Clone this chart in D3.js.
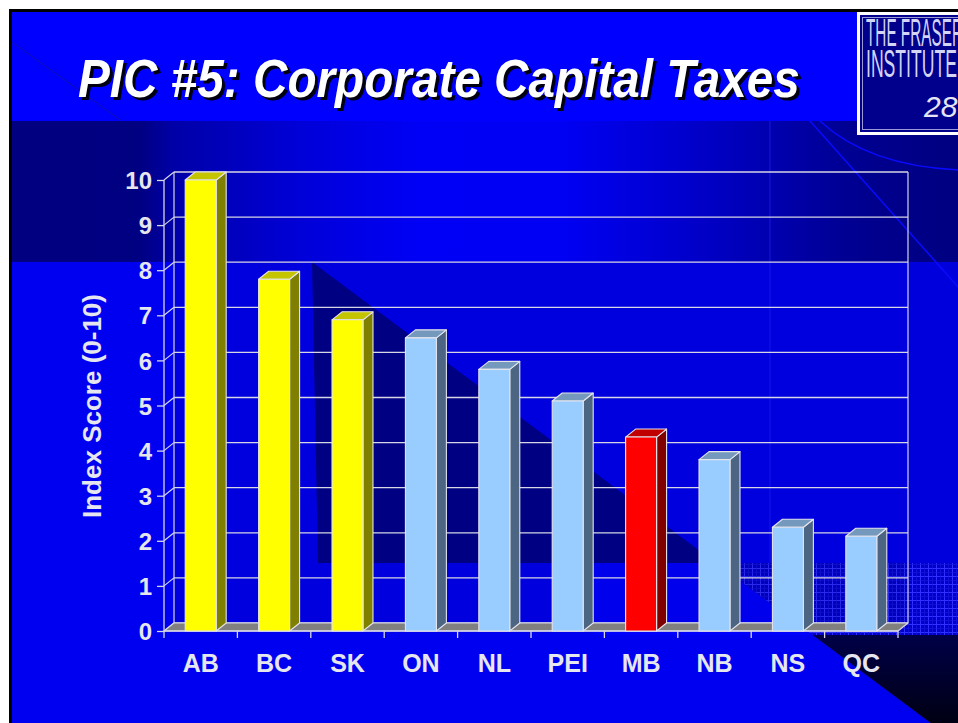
<!DOCTYPE html>
<html><head><meta charset="utf-8">
<script src="https://cdn.jsdelivr.net/npm/d3@7"></script>
<style>html,body{margin:0;padding:0;background:#fff;overflow:hidden}svg{display:block}</style>
</head><body>
<svg id="c" width="958" height="723"></svg>
<script>
// Index scores by province
const categories = ["AB", "BC", "SK", "ON", "NL", "PEI", "MB", "NB", "NS", "QC"];
const scores = [10, 7.8, 6.9, 6.5, 5.8, 5.1, 4.3, 3.8, 2.3, 2.1];
const groups = ["lead", "lead", "lead", "other", "other", "other", "focus", "other", "other", "other"];
const yTicks = [0, 1, 2, 3, 4, 5, 6, 7, 8, 9, 10];
const titleText = "PIC #5: Corporate Capital Taxes";
const yTitleText = "Index Score (0-10)";
const logoLines = ["THE FRASER", "INSTITUTE"];
const pageNumber = "28";

const palette = {
  lead:  {front: "#ffff00", side: "#808000", top: "#c4c400"},
  other: {front: "#99ccff", side: "#4b6582", top: "#7499bd"},
  focus: {front: "#ff0000", side: "#800000", top: "#c00000"}
};
const FONT = "'Liberation Sans', Arial, Helvetica, sans-serif";
const labelColor = "#e6e6ee";

const svg = d3.select("#c");
const defs = svg.append("defs");

// ---------- slide background ----------
const bandGrad = defs.append("linearGradient").attr("id", "band")
  .attr("gradientUnits", "userSpaceOnUse").attr("x1", 12).attr("x2", 958).attr("y1", 0).attr("y2", 0);
[[12, "#000080"], [140, "#000082"], [174, "#0000a8"], [300, "#0000d8"], [420, "#0000f6"],
 [560, "#0000f4"], [700, "#0000c8"], [770, "#0000b0"], [850, "#000092"], [958, "#000080"]]
  .forEach(([x, c]) => bandGrad.append("stop").attr("offset", (x - 12) / 946).attr("stop-color", c));

const darkGrad = defs.append("linearGradient").attr("id", "night")
  .attr("x1", 0).attr("x2", 0).attr("y1", 0).attr("y2", 1);
darkGrad.append("stop").attr("offset", 0).attr("stop-color", "#000048");
darkGrad.append("stop").attr("offset", 1).attr("stop-color", "#000012");

const grid = defs.append("pattern").attr("id", "mesh").attr("patternUnits", "userSpaceOnUse")
  .attr("width", 8).attr("height", 8);
grid.append("rect").attr("width", 8).attr("height", 8).attr("fill", "#0000c8");
grid.append("path").attr("d", "M0 0.5H8M0.5 0V8").attr("stroke", "#3030ff").attr("stroke-width", 1);
grid.append("path").attr("d", "M0 4.5H8M4.5 0V8").attr("stroke", "#1818e0").attr("stroke-width", 0.6);

const bg = svg.append("g");
bg.append("rect").attr("x", 9).attr("y", 9).attr("width", 960).attr("height", 720).attr("fill", "#000");
bg.append("rect").attr("x", 12).attr("y", 12).attr("width", 950).attr("height", 715).attr("fill", "#0000f0");
bg.append("rect").attr("x", 12).attr("y", 12).attr("width", 950).attr("height", 109).attr("fill", "#0000ff");
bg.append("rect").attr("x", 12).attr("y", 121).attr("width", 950).attr("height", 141).attr("fill", "url(#band)");
bg.append("rect").attr("x", 908).attr("y", 262).attr("width", 60).attr("height", 301).attr("fill", "#0000dc");
// diagonal shading and lower-right motif
const diag = y => 312 + (y - 262) / 0.745;
bg.append("polygon").attr("points", [[312, 262], [diag(563), 563], [318, 563]].join(" ")).attr("fill", "#000088");
bg.append("polygon").attr("points", [[593, 563], [diag(563), 563], [diag(635), 635], [593, 635]].join(" ")).attr("fill", "#0000ff");
bg.append("polygon").attr("points", [[diag(563), 563], [960, 563], [960, 635], [diag(635), 635]].join(" ")).attr("fill", "url(#mesh)");
bg.append("polygon").attr("points", [[diag(635), 635], [960, 635], [960, 725], [diag(725), 725]].join(" ")).attr("fill", "url(#night)");
// thin decorative strokes
bg.append("line").attr("x1", 12).attr("y1", 42).attr("x2", 122).attr("y2", 121).attr("stroke", "#1010b0").attr("stroke-width", 1);
bg.append("line").attr("x1", 770).attr("y1", 121).attr("x2", 770).attr("y2", 563).attr("stroke", "#2a2aff").attr("stroke-width", 1).attr("opacity", 0.6);
bg.append("line").attr("x1", 810).attr("y1", 121).attr("x2", 960).attr("y2", 289).attr("stroke", "#0a0aff").attr("stroke-width", 1.5);
bg.append("path").attr("d", "M820 121 Q868 166 960 170").attr("fill", "none").attr("stroke", "#0a0aff").attr("stroke-width", 1.5);

// ---------- title ----------
const title = svg.append("g").attr("font-family", FONT).attr("font-weight", "bold").attr("font-style", "italic").attr("font-size", 54);
const tShadow = title.append("text").attr("x", 0).attr("y", 0).attr("fill", "#000010").text(titleText);
const tMain = title.append("text").attr("x", 0).attr("y", 0).attr("fill", "#ffffff").text(titleText);
const tw = tMain.node().getComputedTextLength();
const sx = 722 / tw;
tShadow.attr("transform", `translate(81,100) scale(${sx},1)`);
tMain.attr("transform", `translate(78,97) scale(${sx},1)`);

// ---------- logo box ----------
const logo = svg.append("g");
logo.append("rect").attr("x", 857).attr("y", 12).attr("width", 110).attr("height", 123).attr("fill", "#ffffff");
logo.append("rect").attr("x", 860).attr("y", 15).attr("width", 110).attr("height", 117).attr("fill", "#00008c");
logo.append("rect").attr("x", 862.5).attr("y", 17.5).attr("width", 110).attr("height", 112).attr("fill", "none")
  .attr("stroke", "#9a9ad8").attr("stroke-width", 1);
logoLines.forEach((s, i) => {
  const t = logo.append("text").attr("font-family", FONT).attr("font-size", 30).attr("fill", "#d4d4f4")
    .attr("x", 0).attr("y", 0).text(s);
  const w = t.node().getComputedTextLength();
  const k = (i === 0 ? 97 : 91) / w;
  t.attr("transform", `translate(866,${i === 0 ? 46 : 77}) scale(${k},1.3)`);
});
logo.append("text").attr("font-family", FONT).attr("font-style", "italic").attr("font-size", 30)
  .attr("fill", "#e4e4f4").attr("x", 924).attr("y", 117).text(pageNumber);

// ---------- chart ----------
const dx = 10, dy = -8;
const x = d3.scaleBand().domain(categories).range([164, 898]).paddingInner(0.578).paddingOuter(0.289);
const y = d3.scaleLinear().domain([0, 10]).range([631, 180]);
const x0 = 164, x1 = 898;
const lineCol = "#d6d6e4";
const chart = svg.append("g");

// back wall tint (below band) and frame
chart.append("rect").attr("x", x0 + dx).attr("y", 262).attr("width", x1 - x0).attr("height", y(0) + dy - 262)
  .attr("fill", "#000060").attr("opacity", 0.12);
// gridlines on back wall + side-wall diagonals
yTicks.forEach(t => {
  chart.append("line").attr("x1", x0 + dx).attr("x2", x1 + dx).attr("y1", y(t) + dy).attr("y2", y(t) + dy)
    .attr("stroke", lineCol).attr("stroke-width", 1.3);
  chart.append("line").attr("x1", x0).attr("x2", x0 + dx).attr("y1", y(t)).attr("y2", y(t) + dy)
    .attr("stroke", lineCol).attr("stroke-width", 1.2);
});
chart.append("line").attr("x1", x0 + dx).attr("x2", x0 + dx).attr("y1", y(10) + dy).attr("y2", y(0) + dy).attr("stroke", lineCol).attr("stroke-width", 1.2);
chart.append("line").attr("x1", x1 + dx).attr("x2", x1 + dx).attr("y1", y(10) + dy).attr("y2", y(0) + dy).attr("stroke", lineCol).attr("stroke-width", 1.2);

// floor
chart.append("polygon").attr("points", [[x0, y(0)], [x1, y(0)], [x1 + dx, y(0) + dy], [x0 + dx, y(0) + dy]].join(" "))
  .attr("fill", "#808080").attr("stroke", lineCol).attr("stroke-width", 1.2).attr("stroke-linejoin", "round");

// front y axis
chart.append("line").attr("x1", x0).attr("x2", x0).attr("y1", y(10)).attr("y2", y(0)).attr("stroke", lineCol).attr("stroke-width", 1.3);
const yAxis = d3.axisLeft(y).tickValues(yTicks).tickSize(7).tickPadding(5).tickFormat(d3.format("d"));
const yg = chart.append("g").attr("transform", `translate(${x0},0)`).call(yAxis);
yg.select(".domain").remove();
yg.selectAll(".tick line").attr("stroke", lineCol).attr("stroke-width", 1.3);
yg.selectAll(".tick text").attr("fill", labelColor).attr("font-family", FONT).attr("font-weight", "bold")
  .attr("font-size", 24).attr("dy", "0.36em");

// x axis: ticks at category boundaries
const bounds = d3.range(categories.length + 1).map(i => x0 + i * x.step());
chart.selectAll(".xb").data(bounds).join("line").attr("class", "xb")
  .attr("x1", d => d).attr("x2", d => d).attr("y1", y(0)).attr("y2", y(0) + 7)
  .attr("stroke", lineCol).attr("stroke-width", 1.3);
chart.append("line").attr("x1", x0).attr("x2", x1).attr("y1", y(0)).attr("y2", y(0)).attr("stroke", lineCol).attr("stroke-width", 1.3);
chart.selectAll(".xl").data(categories).join("text").attr("class", "xl")
  .attr("x", d => x(d) + x.bandwidth() / 2).attr("y", 672).attr("text-anchor", "middle")
  .attr("fill", labelColor).attr("font-family", FONT).attr("font-weight", "bold").attr("font-size", 25).text(d => d);

// 3D bars
const data = categories.map((c, i) => ({c, v: scores[i], g: groups[i]}));
const bars = chart.selectAll(".bar").data(data).join("g").attr("class", "bar");
const edge = {stroke: "#e4e4ec", "stroke-width": 1.1, "stroke-linejoin": "round"};
function styled(sel) { Object.entries(edge).forEach(([k, v]) => sel.attr(k, v)); return sel; }
styled(bars.append("polygon").attr("points", d => {
  const a = x(d.c) + x.bandwidth(), t = y(d.v), b = y(0);
  return [[a, t], [a + dx, t + dy], [a + dx, b + dy], [a, b]].join(" ");
}).attr("fill", d => palette[d.g].side));
styled(bars.append("polygon").attr("points", d => {
  const l = x(d.c), r = l + x.bandwidth(), t = y(d.v);
  return [[l, t], [l + dx, t + dy], [r + dx, t + dy], [r, t]].join(" ");
}).attr("fill", d => palette[d.g].top));
styled(bars.append("rect").attr("x", d => x(d.c)).attr("y", d => y(d.v))
  .attr("width", x.bandwidth()).attr("height", d => y(0) - y(d.v)).attr("fill", d => palette[d.g].front));

// y axis title
chart.append("text").attr("transform", "translate(101,406) rotate(-90)").attr("text-anchor", "middle")
  .attr("fill", labelColor).attr("font-family", FONT).attr("font-weight", "bold").attr("font-size", 26).text(yTitleText);
</script>
</body></html>
